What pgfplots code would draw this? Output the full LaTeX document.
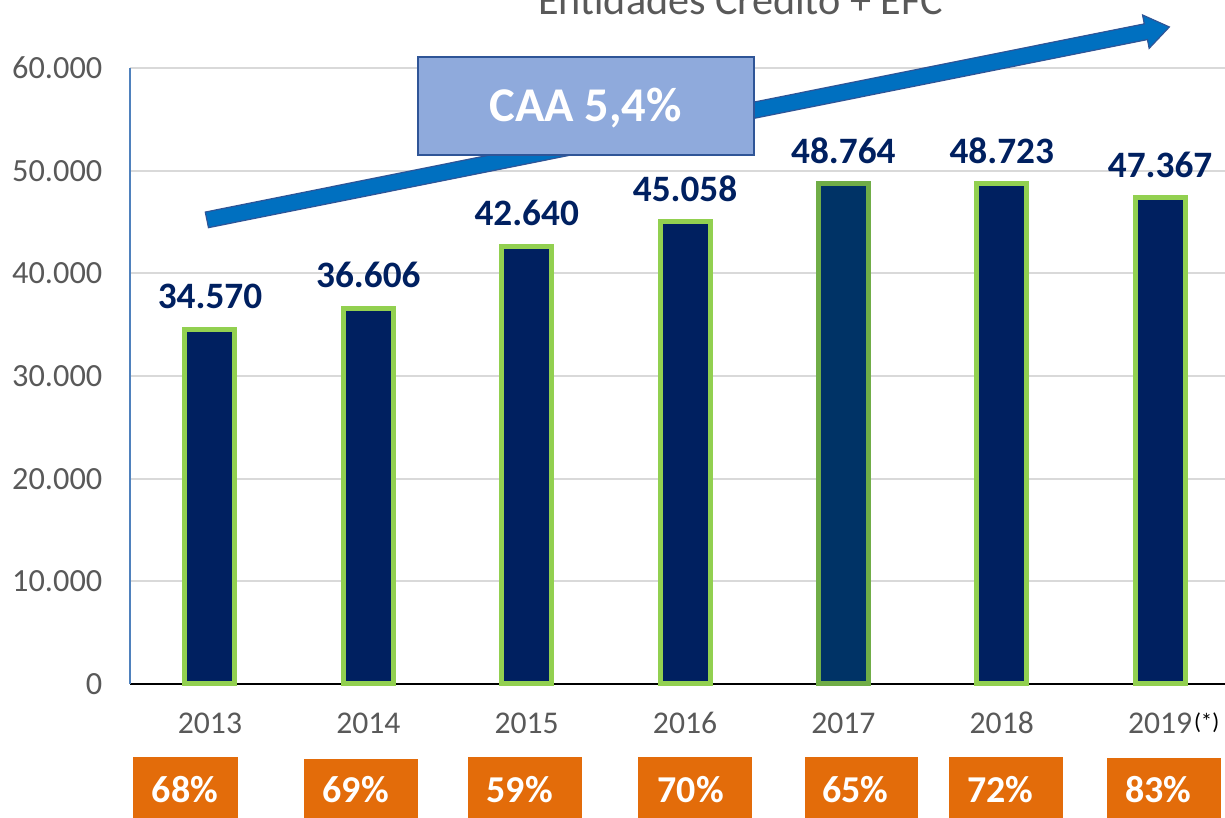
\documentclass[border=0pt]{standalone}
\usepackage{fontspec}
\setmainfont{Carlito}
\usepackage{pgfplots}
\pgfplotsset{compat=1.18}
\definecolor{navy}{HTML}{002060}
\definecolor{navyb}{HTML}{003366}
\definecolor{grn}{HTML}{92D050}
\definecolor{grnb}{HTML}{70AD47}
\definecolor{txtgray}{HTML}{595959}
\definecolor{gridc}{HTML}{D9D9D9}
\definecolor{yaxc}{HTML}{4F81BD}
\definecolor{arrowc}{HTML}{0070C0}
\definecolor{arrowe}{HTML}{2F5597}
\definecolor{boxc}{HTML}{8FAADC}
\definecolor{orng}{HTML}{E36C0A}
\begin{document}
\begin{tikzpicture}
\useasboundingbox (0,0) rectangle (12.25cm,8.18cm);
\begin{axis}[
  at={(1.30cm,1.34cm)}, anchor=south west,
  scale only axis, width=10.95cm, height=6.16cm,
  xmin=-0.505, xmax=6.41, ymin=0, ymax=60000,
  ybar, bar width=0.5cm,
  axis lines*=left,
  x axis line style={draw=black, line width=0.02cm},
  y axis line style={draw=yaxc, line width=0.012cm},
  major tick length=0pt,
  scaled y ticks=false,
  xtick={0,...,6},
  xticklabels={2013,2014,2015,2016,2017,2018,2019},
  xticklabel style={anchor=center, yshift=-0.39cm, font=\fontsize{9}{10}\selectfont, text=txtgray},
  ytick={0,10000,20000,30000,40000,50000,60000},
  yticklabels={0,10.000,20.000,30.000,40.000,50.000,60.000},
  yticklabel style={anchor=east, inner sep=0pt, xshift=-0.27cm, font=\fontsize{9.2}{10}\selectfont, text=txtgray},
  ymajorgrids, grid style={draw=gridc, line width=0.02cm},
  /pgf/number format/.cd, 1000 sep={.}, assume math mode=true, /pgfplots/.cd,
  nodes near coords={\pgfmathprintnumber{\pgfplotspointmeta}},
  every node near coord/.append style={anchor=center, yshift=0.33cm,
    font=\fontsize{10.6}{12}\selectfont\bfseries, text=navy},
  clip=false,
]
\addplot[fill=navy, draw=grn, line width=0.05cm, bar shift=0pt]
  coordinates {(0,34570) (1,36606) (2,42640) (3,45058) (5,48723) (6,47367)};
\addplot[fill=navyb, draw=grnb, line width=0.05cm, bar shift=0pt]
  coordinates {(4,48764)};
\end{axis}
\begin{scope}[x=0.01cm, y=-0.01cm, yshift=8.18cm]
  % title (cut off at the top, as in the source)
  \node[anchor=base, inner sep=0pt, text=txtgray, font=\fontsize{12}{14}\selectfont] at (741,15) {Entidades Crédito + EFC};
  % growth arrow
  \draw[fill=arrowc, draw=arrowe, line width=0.012cm, line join=miter]
    (208.6,227.8) -- (1148.1,39.6) -- (1149.8,48.4) -- (1170,27) -- (1143.2,15.0) -- (1144.9,23.9) -- (205.4,212.2) -- cycle;
  % CAA box
  \draw[fill=boxc, draw=arrowe, line width=0.02cm] (418,57) rectangle (754,155);
  \node[text=white, font=\fontsize{13.8}{16}\selectfont\bfseries] at (586,108) {CAA 5,4\%};
  % footnote marker
  \node[anchor=west, inner sep=0pt, font=\fontsize{6.5}{8}\selectfont] at (1194,723) {(*)};
  % orange share boxes
  \foreach \xa/\xb/\yt/\xc/\lab in {133/238/757/185/68, 304/418/759/356/69, 468/582/757/520/59,
      638/752/757/691/70, 805/919/757/856/65, 950/1064/757/1001/72, 1108/1222/758/1159/83} {
    \fill[orng] (\xa,\yt) rectangle (\xb,820);
    \node[text=white, font=\fontsize{10.8}{12}\selectfont\bfseries] at (\xc,790) {\lab\%};
  }
\end{scope}
\end{tikzpicture}
\end{document}
